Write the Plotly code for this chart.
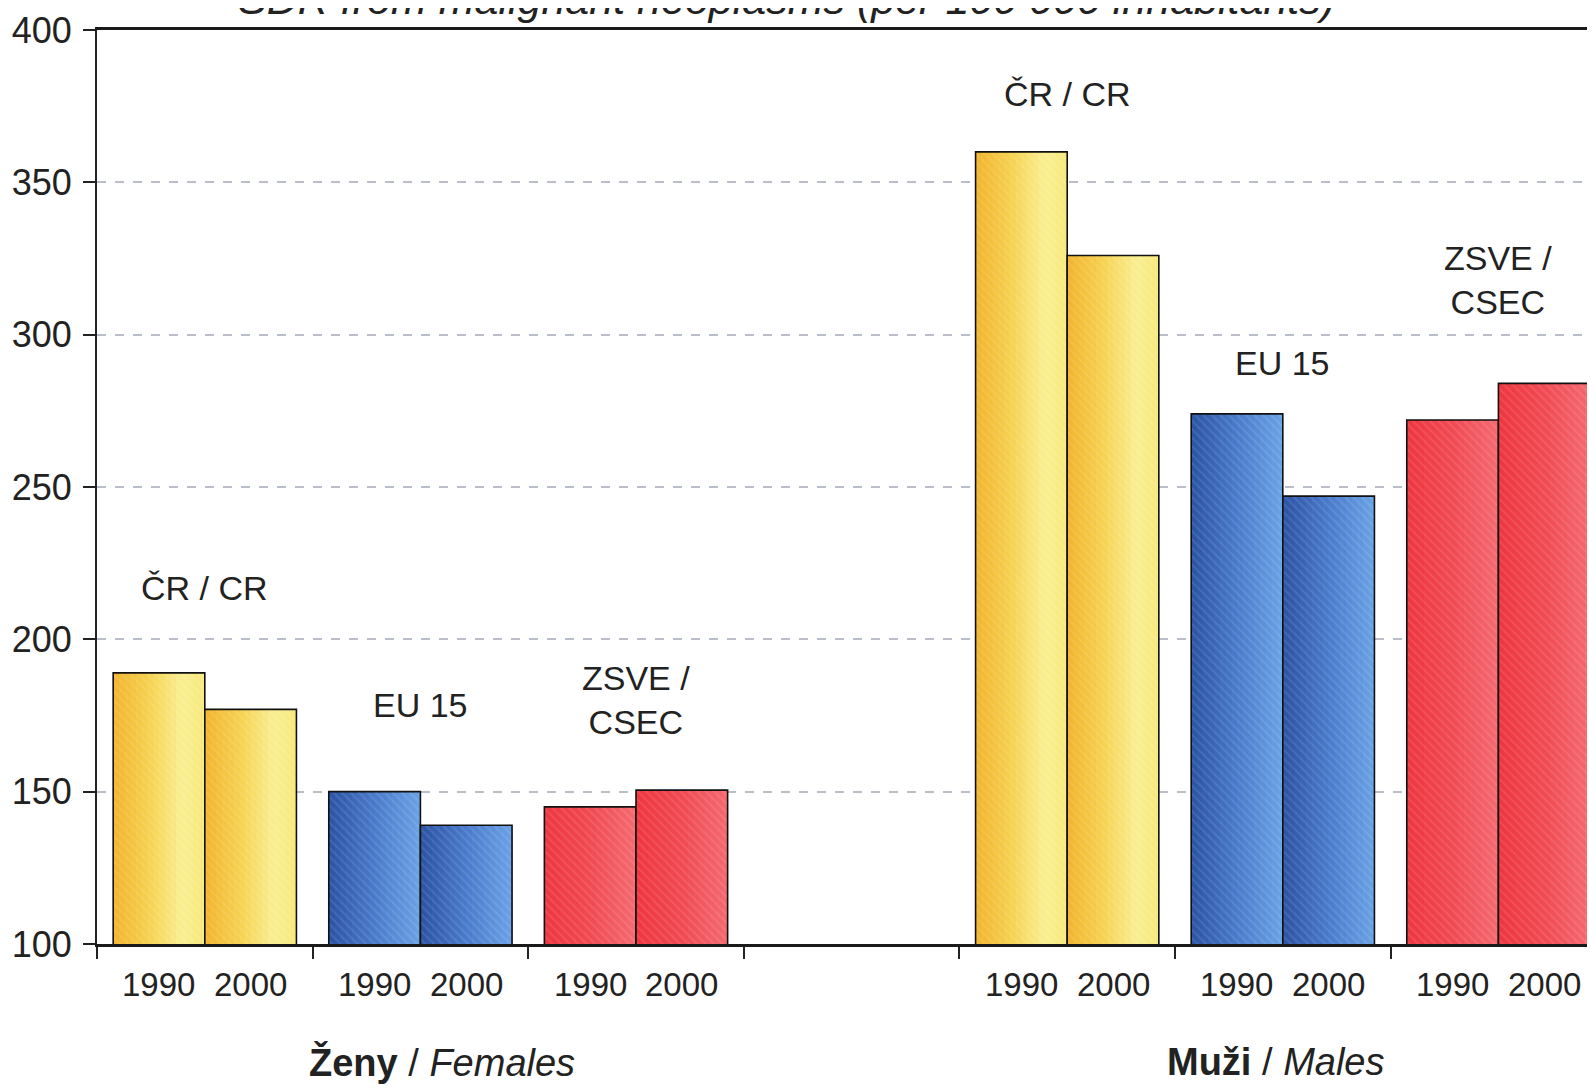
import plotly.graph_objects as go

# ---- data ----
groups = ["ČR / CR", "EU 15", "ZSVE /<br>CSEC", "ČR / CR", "EU 15", "ZSVE /<br>CSEC"]
slots = [0, 1, 2, 4, 5, 6]            # slot 3 is the empty gap between sexes
years = ["1990", "2000"]
vals_1990 = [189, 150, 145, 360, 274, 272]
vals_2000 = [177, 139, 150.5, 326, 247, 284]
group_label_y = [217, 178.5, 180, 379, 290.7, 318]
sex_labels = ["<b>Ženy</b> / <i>Females</i>", "<b>Muži</b> / <i>Males</i>"]
sex_label_x = [1.1, 4.97]
y_ticks = [100, 150, 200, 250, 300, 350, 400]
title = "SDR from malignant neoplasms (per 100 000 inhabitants)"

# colour gradients (left -> right inside each bar) per region
grad_cr = [(0.0, "#F2B42E"), (0.4, "#F6D252"), (0.75, "#F9EF92"), (1.0, "#F7E97C")]
grad_eu = [(0.0, "#2C52A4"), (0.5, "#4A7BCB"), (1.0, "#6AA2E6")]
grad_cs = [(0.0, "#EE363F"), (0.5, "#F14A53"), (1.0, "#F46A71")]
group_grads = [grad_cr, grad_eu, grad_cs, grad_cr, grad_eu, grad_cs]

FONT = "Liberation Sans, Arial, sans-serif"


def hex2rgb(h):
    h = h.lstrip("#")
    return [int(h[i:i + 2], 16) for i in (0, 2, 4)]


def grad_color(stops, t):
    for (t0, c0), (t1, c1) in zip(stops[:-1], stops[1:]):
        if t0 <= t <= t1:
            f = (t - t0) / (t1 - t0) if t1 > t0 else 0
            a, b = hex2rgb(c0), hex2rgb(c1)
            return "rgb(%d,%d,%d)" % tuple(round(a[i] + (b[i] - a[i]) * f) for i in range(3))
    return stops[-1][1]


W = 0.425        # width of one bar in slot units
N = 16           # gradient strips per bar
fig = go.Figure()
for k, vals in enumerate([vals_1990, vals_2000]):
    start = -W + k * W
    d = W / N
    for i in range(N):
        t = (i + 0.5) / N
        fig.add_trace(go.Bar(
            x=slots, y=vals, width=W - i * d, offset=start + i * d,
            marker=dict(color=[grad_color(g, t) for g in group_grads], line=dict(width=0)),
            hoverinfo="skip", showlegend=False,
        ))
    # outline + subtle diagonal texture
    fig.add_trace(go.Bar(
        x=slots, y=vals, width=W, offset=start, name=years[k],
        marker=dict(color="rgba(0,0,0,0)", line=dict(color="#111111", width=1.6),
                    pattern=dict(shape="\\", fgcolor="rgba(255,255,255,0.22)",
                                 bgcolor="rgba(0,0,0,0)", size=6, solidity=0.3)),
        showlegend=False,
    ))

anns = []
for s, g, gy in zip(slots, groups, group_label_y):
    anns.append(dict(x=s, y=gy, xref="x", yref="y", text=g, showarrow=False,
                     font=dict(size=34, color="#222222", family=FONT), align="center"))
for s in slots:
    for k, yr in enumerate(years):
        anns.append(dict(x=s + (-W / 2 if k == 0 else W / 2), y=100, xref="x", yref="y",
                         text=yr, showarrow=False, yanchor="middle", yshift=-40,
                         font=dict(size=33, color="#222222", family=FONT)))
for sx, sl in zip(sex_label_x, sex_labels):
    anns.append(dict(x=sx, y=0, xref="x", yref="paper", text=sl, showarrow=False,
                     yanchor="middle", yshift=-118,
                     font=dict(size=38, color="#222222", family=FONT)))
anns.append(dict(x=0.46, y=1, xref="paper", yref="paper", text="<i>" + title + "</i>",
                 showarrow=False, yanchor="bottom", yshift=5,
                 font=dict(size=43, color="#222222", family=FONT)))

fig.update_layout(
    width=1587, height=1081,
    margin=dict(l=89, r=0, t=22, b=145),
    paper_bgcolor="white", plot_bgcolor="white",
    barmode="overlay",
    showlegend=False,
    annotations=anns,
    font=dict(family=FONT, color="#222222"),
)
fig.update_xaxes(range=[-0.5, 6.448], tickvals=[-0.5, 0.5, 1.5, 2.5, 3.5, 4.5, 5.5, 6.5],
                 ticktext=[""] * 8, ticks="outside", ticklen=12, tickwidth=2, tickcolor="#222222",
                 showline=True, linecolor="#1a1a1a", linewidth=3, mirror=True,
                 showgrid=False, zeroline=False)
fig.update_yaxes(range=[100, 400], tickvals=y_ticks, ticks="outside", ticklen=12, tickwidth=2,
                 tickcolor="#222222", showline=True, linecolor="#222222", linewidth=2,
                 showgrid=True, gridcolor="#B9BEC8", griddash="dash", gridwidth=1.5,
                 zeroline=False, ticklabelstandoff=4,
                 tickfont=dict(size=36, color="#222222", family=FONT))

fig.write_html("out.html")
